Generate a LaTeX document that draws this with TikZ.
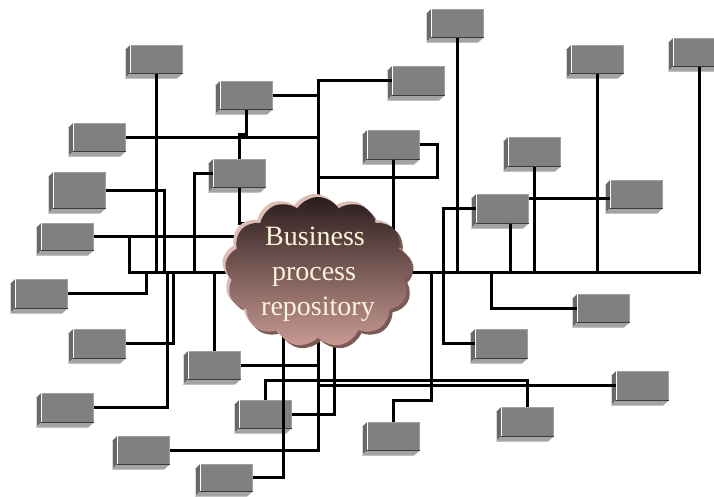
\documentclass[tikz,border=0pt]{standalone}
\usepackage{fontspec}
\setmainfont{Liberation Serif}
\usetikzlibrary{shapes.symbols}

\definecolor{facegray}{HTML}{808080}
\definecolor{sidegray}{HTML}{686868}
\definecolor{basegray}{HTML}{A3A3A3}
\definecolor{edgedark}{HTML}{3A3A3A}
\definecolor{cloudtop}{HTML}{2A1D1D}
\definecolor{cloudbot}{HTML}{C99A93}
\definecolor{cloudrim}{HTML}{DDBDB5}
\definecolor{cloudshade}{HTML}{7A5955}
\definecolor{labelcream}{HTML}{FBF3DA}

\tikzset{
  boxface/.style={rectangle, fill=facegray, draw=facegray!75!white, line width=0.6pt,
    inner sep=0pt, minimum width=52pt, anchor=north west},
  wire/.style={line width=3pt, black},
  puffy/.style={cloud, cloud puffs=13, cloud puff arc=115, aspect=1.25,
    minimum width=186pt, minimum height=150pt, inner sep=0pt},
  cloudtext/.style={text=labelcream, inner sep=0pt, anchor=base,
    font=\fontsize{28pt}{34pt}\selectfont},
}

% a grey block with its bevel to the lower left: name, x, y, face height
\newcommand\gbox[4]{%
  \node[boxface, minimum height=#4pt] (#1) at (#2,#3) {};
  \fill[sidegray] (#1.north west) -- ++(-5,5) -- ++(0,#4) -- (#1.south west) -- cycle;
  \fill[basegray] (#1.south west) -- ++(-5,5) -- ++(52,0) -- (#1.south east) -- cycle;
  \draw[white, line width=0.8pt] (#1.north west) -- (#1.south west);
  \draw[edgedark, line width=1pt] (#1.south west) -- (#1.south east);
  \draw[white!85!black, line width=0.6pt] ([xshift=-5pt,yshift=-5pt]#1.north west) -- ++(0,#4);
}

\begin{document}
\begin{tikzpicture}[x=1pt, y=-1pt]
\useasboundingbox (0,0) rectangle (714,496);
\clip (0,0) rectangle (714,496);

% blocks
\gbox{b1}{130}{45}{28}
\gbox{b2}{220}{81}{28}
\gbox{b3}{73}{123}{28}
\gbox{b4}{53}{172}{36}
\gbox{b5}{213}{159}{28}
\gbox{b6}{41}{223}{27}
\gbox{b7}{431}{9}{28}
\gbox{b8}{392}{66}{29}
\gbox{b9}{367}{130}{29}
\gbox{b10}{571}{45}{28}
\gbox{b11}{673}{38}{28}
\gbox{b12}{508}{137}{29}
\gbox{b13}{476}{194}{29}
\gbox{b14}{610}{180}{28}
\gbox{b15}{15}{279}{29}
\gbox{b16}{73}{329}{29}
\gbox{b17}{188}{351}{28}
\gbox{b18}{41}{393}{29}
\gbox{b19}{239}{400}{28}
\gbox{b20}{117}{436}{28}
\gbox{b21}{200}{464}{27}
\gbox{b22}{577}{294}{28}
\gbox{b23}{475}{329}{29}
\gbox{b24}{616}{371}{29}
\gbox{b25}{501}{407}{29}
\gbox{b26}{367}{422}{28}

% junction points
\coordinate (hub) at (318,272);
\coordinate (lj) at (129,272);
\coordinate (loop) at (437,177);
\coordinate (c5) at (194,272);
\coordinate (c5b) at (318,223);
\coordinate (c4) at (164,272);
\coordinate (c15) at (146,272);
\coordinate (c16) at (173,272);
\coordinate (c18) at (167,272);
\coordinate (c13) at (510,272);
\coordinate (x443) at (443,0);
\coordinate (j14) at ([yshift=-4pt]b14.west);
\coordinate (c22) at (491,272);
\coordinate (c26) at (431,400);
\coordinate (c25) at (527,380);
\coordinate (c19) at (334,272);
\coordinate (c21) at (283,272);

% main bus
\draw[wire] (b11.south) -- (b11.south |- hub) -- (lj) -- (lj |- b6.east) -- (b6.east);
\draw[wire] (lj |- b6.east) -- (lj |- b6.east -| hub);

% left side
\draw[wire] (b1.south) -- (b1.south |- hub);
\draw[wire] (b3.east) -- (b3.east -| hub);
\draw[wire] (b2.east) -- (b2.east -| hub);
\draw[wire] (b8.west) -| (hub);
\draw[wire] (b9.east) -| (loop) -- (loop -| hub);
\draw[wire] (b9.south) -- (b9.south |- hub);
\draw[wire] (b2.south) -- ++(0,25) -| (b5.north);
\draw[wire] (b5.west) -| (c5);
\draw[wire] (b5.south) |- (c5b);
\draw[wire] (b4.east) -| (c4);
\draw[wire] (b15.east) -| (c15);
\draw[wire] (b16.east) -| (c16);
\draw[wire] (b18.east) -| (c18);
\draw[wire] (b17.north) -- (b17.north |- hub);

% right side
\draw[wire] (b7.south) -- (b7.south |- hub);
\draw[wire] (b10.south) -- (b10.south |- hub);
\draw[wire] (b12.south) -- (b12.south |- hub);
\draw[wire] (c13 |- b13.south) -- (c13);
\draw[wire] (b13.west) -| (b23.west -| x443) -- (b23.west);
\draw[wire] (j14) -- (j14 -| b13.east);
\draw[wire] (b22.west) -| (c22);
\draw[wire] (b26.north) |- (c26) -- (c26 |- hub);

% lower side
\draw[wire] (b25.north) -- (b25.north |- c25) -| (b19.north);
\draw[wire] (hub) -- (hub |- b20.east) -- (b20.east);
\draw[wire] (b24.west) -- (b24.west -| hub);
\draw[wire] (b17.east) -- (b17.east -| hub);
\draw[wire] (b19.east) -| (c19);
\draw[wire] (b21.east) -| (c21);

% repository cloud
\node[puffy, fill=cloudshade] (cloudback) at (321,275) {};
\node[puffy, fill=cloudrim] (cloudedge) at (315,269) {};
\node[puffy, top color=cloudtop, bottom color=cloudbot] (cloud) at (318,272) {};
\node[cloudtext] (t1) at (315,245) {Business};
\node[cloudtext] (t2) at (314,280) {process};
\node[cloudtext] (t3) at (318,315) {repository};
\end{tikzpicture}
\end{document}
